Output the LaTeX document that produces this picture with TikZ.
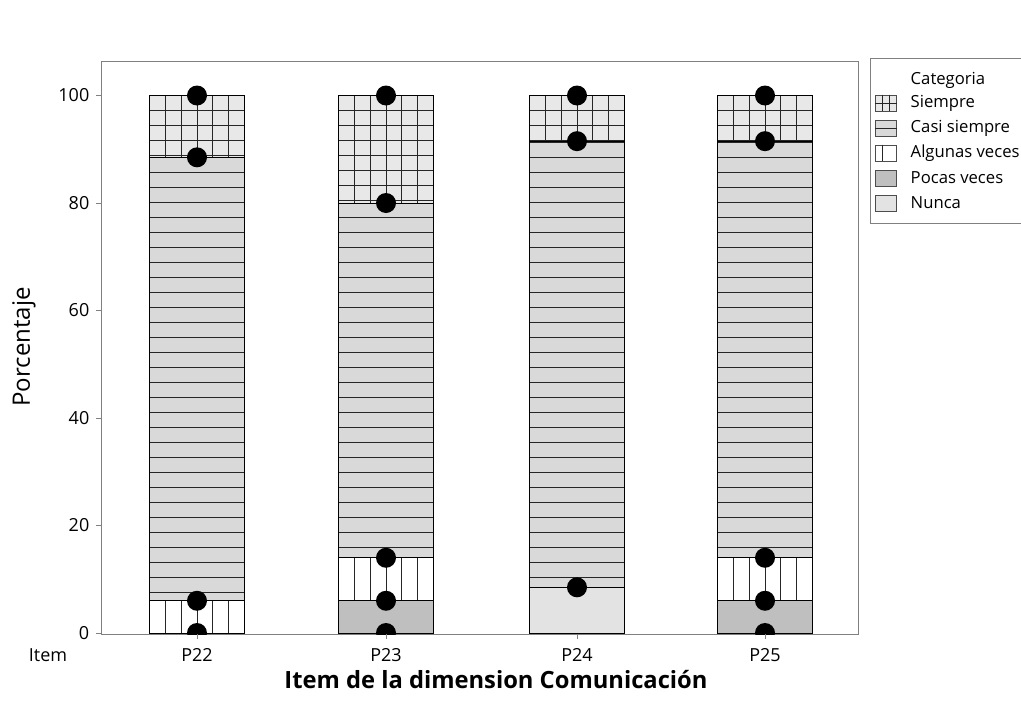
\documentclass[tikz,border=0pt]{standalone}
\usepackage{fontspec}
\setmainfont{Open Sans}
\begin{document}
\begin{tikzpicture}[x=0.75pt, y=-0.75pt,
  every node/.style={font=\fontsize{13.5}{15}\selectfont},
  dot/.style={circle, fill=black, inner sep=0pt, minimum size=15pt},
  frameline/.style={black!50, line width=0.6pt},
  patline/.style={black!85, line width=0.7pt},
  swatch/.style={draw=black!70, fill=#1, minimum width=16pt, minimum height=12pt, inner sep=0pt},
  legtext/.style={anchor=west, font=\fontsize{12.5}{14}\selectfont}]

\useasboundingbox (0,0) rectangle (1021,714);

% marco del grafico
\draw[frameline] (101,634) -- (101,61) -- (858,61) -- (858,634) -- cycle;

\foreach \v in {0,20,...,100}{
    \pgfmathsetmacro{\yy}{633-5.375*\v}
    \draw[frameline] (96,\yy) -- (101,\yy);
    \node[anchor=east] (ytick\v) at (94,\yy) {\v};
}

% Nunca
\foreach \c/\a/\b in {577/0/8.5}{
    \fill[gray!22] (\c-47.5,{633-5.375*\a}) rectangle (\c+47.5,{633-5.375*\b});
    \draw (\c-47.5,{633-5.375*\a}) rectangle (\c+47.5,{633-5.375*\b});
}

% Pocas veces
\foreach \c/\a/\b in {386/0/6, 765/0/6}{
    \fill[gray!50] (\c-47.5,{633-5.375*\a}) rectangle (\c+47.5,{633-5.375*\b});
    \draw (\c-47.5,{633-5.375*\a}) rectangle (\c+47.5,{633-5.375*\b});
}

% Algunas veces
\foreach \c/\a/\b in {197/0/6, 386/6/14, 765/6/14}{
    \fill[white] (\c-47.5,{633-5.375*\a}) rectangle (\c+47.5,{633-5.375*\b});
    \foreach \i in {1,...,5}
        \draw[patline] (\c-47.5+15.83*\i,{633-5.375*\a}) -- (\c-47.5+15.83*\i,{633-5.375*\b});
    \draw (\c-47.5,{633-5.375*\a}) rectangle (\c+47.5,{633-5.375*\b});
}

% Casi siempre
\foreach \c/\a/\b in {197/6/88.5, 386/14/80, 577/8.5/91.5, 765/14/91.5}{
    \begin{scope}
        \clip (\c-47.5,{633-5.375*\a}) rectangle (\c+47.5,{633-5.375*\b});
        \fill[gray!30] (\c-47.5,{633-5.375*\a}) rectangle (\c+47.5,{633-5.375*\b});
        \foreach \k in {1,...,38}
            \draw[patline] (\c-47.5,637-15*\k) -- (\c+47.5,637-15*\k);
    \end{scope}
    \draw (\c-47.5,{633-5.375*\a}) rectangle (\c+47.5,{633-5.375*\b});
}

% Siempre
\foreach \c/\a in {197/88.5, 386/80, 577/91.5, 765/91.5}{
    \begin{scope}
        \clip (\c-47.5,{633-5.375*\a}) rectangle (\c+47.5,95.5);
        \fill[gray!18] (\c-47.5,{633-5.375*\a}) rectangle (\c+47.5,95.5);
        \foreach \i in {1,...,5}
            \draw[patline] (\c-47.5+15.83*\i,{633-5.375*\a}) -- (\c-47.5+15.83*\i,95.5);
        \foreach \k in {1,...,8}
            \draw[patline] (\c-47.5,95.5+15*\k) -- (\c+47.5,95.5+15*\k);
    \end{scope}
    \draw (\c-47.5,{633-5.375*\a}) rectangle (\c+47.5,95.5);
}

% puntos
\begin{scope}
    \clip (101,40) rectangle (858,634);
    \foreach \c/\v [count=\i] in {197/0, 197/6, 197/88.5, 197/100,
        386/0, 386/6, 386/14, 386/80, 386/100,
        577/8.5, 577/91.5, 577/100,
        765/0, 765/6, 765/14, 765/91.5, 765/100}
        \node[dot] (dot\i) at (\c,{633-5.375*\v}) {};
\end{scope}

\foreach \c/\p in {197/P22, 386/P23, 577/P24, 765/P25}{
    \draw[frameline] (\c,634) -- (\c,639);
    \node (lab\p) at (\c,655) {\p};
}
\node (item) at (48,655) {Item};

\node[font=\bfseries\fontsize{17.8}{20}\selectfont] (xtitle) at (496,680) {Item de la dimension Comunicación};
\node[rotate=90, font=\fontsize{18}{20}\selectfont] (ytitle) at (24,347) {Porcentaje};

% leyenda
\draw[frameline] (870,58) rectangle (1030,223);
\node[legtext] (legtitle) at (906,80) {Categoria};

\node[swatch=gray!18] (sw1) at (886,103) {};
\draw[patline] ([xshift=5.3pt]sw1.north west) -- ([xshift=5.3pt]sw1.south west);
\draw[patline] ([xshift=10.6pt]sw1.north west) -- ([xshift=10.6pt]sw1.south west);
\draw[patline] (sw1.west) -- (sw1.east);
\node[legtext] (lt1) at (906,103) {Siempre};

\node[swatch=gray!30] (sw2) at (886,128) {};
\draw[patline] (sw2.west) -- (sw2.east);
\node[legtext] (lt2) at (906,128) {Casi siempre};

\node[swatch=white] (sw3) at (886,153) {};
\draw[patline] ([xshift=5.3pt]sw3.north west) -- ([xshift=5.3pt]sw3.south west);
\node[legtext] (lt3) at (906,153) {Algunas veces};

\node[swatch=gray!50] (sw4) at (886,178) {};
\node[legtext] (lt4) at (906,178) {Pocas veces};

\node[swatch=gray!22] (sw5) at (886,203) {};
\node[legtext] (lt5) at (906,203) {Nunca};

\end{tikzpicture}
\end{document}
